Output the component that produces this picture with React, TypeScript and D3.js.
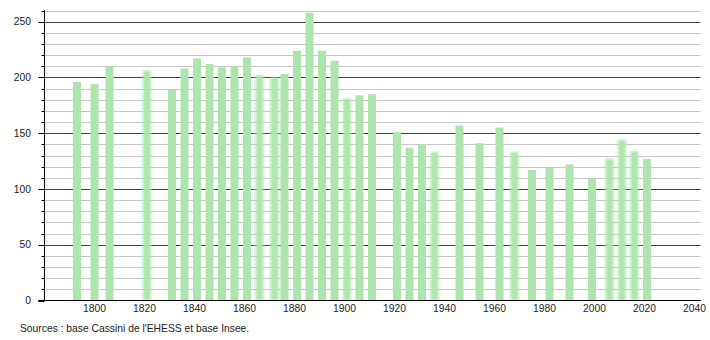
import React from "react";
import * as d3 from "d3";

const years = [1793, 1800, 1806, 1821, 1831, 1836, 1841, 1846, 1851, 1856, 1861, 1866, 1872, 1876, 1881, 1886, 1891, 1896, 1901, 1906, 1911, 1921, 1926, 1931, 1936, 1946, 1954, 1962, 1968, 1975, 1982, 1990, 1999, 2006, 2011, 2016, 2021];
const population = [196, 194, 210, 206, 189, 208, 217, 212, 209, 210, 218, 202, 200, 203, 224, 258, 224, 215, 181, 184, 185, 151, 137, 140, 133, 157, 141, 155, 133, 117, 119, 122, 109, 127, 144, 134, 127];
const softYears = [1821, 1866, 1872, 1901, 1936, 1968, 2006, 2011, 2016];
const xTickLabels = [1800, 1820, 1840, 1860, 1880, 1900, 1920, 1940, 1960, 1980, 2000, 2020, 2040];
const yTickLabels = [0, 50, 100, 150, 200, 250];
const sourceText = "Sources : base Cassini de l'EHESS et base Insee.";

const W = 710;
const H = 340;
const FONT = "'Liberation Sans', Arial, Helvetica, sans-serif";
const FS = 10.3;

export default function App() {
  const x = d3.scaleLinear().domain([1780, 2042.4]).range([44.5, 700.5]);
  const y = d3.scaleLinear().domain([0, 260]).range([300.5, 10.5]);
  const minor = d3.range(10, 261, 10).filter((v) => v % 50 !== 0);
  const halfW = 1.6;
  const data = years.map((yr, i) => ({ yr, v: population[i] }));
  const py = (v: number) => Math.round(y(v)) + 0.5;

  return (
    <div style={{ position: "absolute", left: 0, top: 0 }}>
      <svg width={W} height={H} style={{ display: "block", background: "#fff" }}>
        <defs>
          <filter id="soft" x="-80%" y="-5%" width="260%" height="110%">
            <feGaussianBlur stdDeviation="1.8 0.8" />
          </filter>
        </defs>
        {minor.map((v) => (
          <g key={"m" + v}>
            <line x1={44.5} x2={700.5} y1={py(v)} y2={py(v)} stroke="#c8c8c8" strokeWidth={1} />
            <line x1={41.5} x2={44.5} y1={py(v)} y2={py(v)} stroke="#000" strokeWidth={1} />
          </g>
        ))}
        {yTickLabels.filter((v) => v > 0).map((v) => (
          <line key={"M" + v} x1={44.5} x2={700.5} y1={py(v)} y2={py(v)} stroke="#444" strokeWidth={1} />
        ))}
        {data.map((d) => {
          const x0 = x(d.yr - halfW);
          const x1 = x(d.yr + halfW);
          const soft = softYears.includes(d.yr);
          return (
            <rect
              key={d.yr}
              x={x0}
              y={y(d.v)}
              width={x1 - x0}
              height={y(0) - y(d.v)}
              fill="#aee5ae"
              filter={soft ? "url(#soft)" : undefined}
            />
          );
        })}
        <line x1={44.5} x2={44.5} y1={10} y2={301} stroke="#000" strokeWidth={1} />
        {yTickLabels.map((v) => (
          <g key={"yt" + v}>
            <line x1={38.5} x2={44.5} y1={py(v)} y2={py(v)} stroke="#000" strokeWidth={1} />
            <text x={31} y={y(v)} dy="0.35em" textAnchor="end" fontFamily={FONT} fontSize={FS} fill="#222">
              {v}
            </text>
          </g>
        ))}
        <line x1={38} x2={701} y1={300.5} y2={300.5} stroke="#000" strokeWidth={1.2} />
        {xTickLabels.map((t) => (
          <text key={"xt" + t} x={x(t)} y={312} textAnchor="middle" fontFamily={FONT} fontSize={FS} fill="#222">
            {t}
          </text>
        ))}
        <text x={20} y={332} fontFamily={FONT} fontSize={FS} fill="#222">
          {sourceText}
        </text>
      </svg>
    </div>
  );
}
